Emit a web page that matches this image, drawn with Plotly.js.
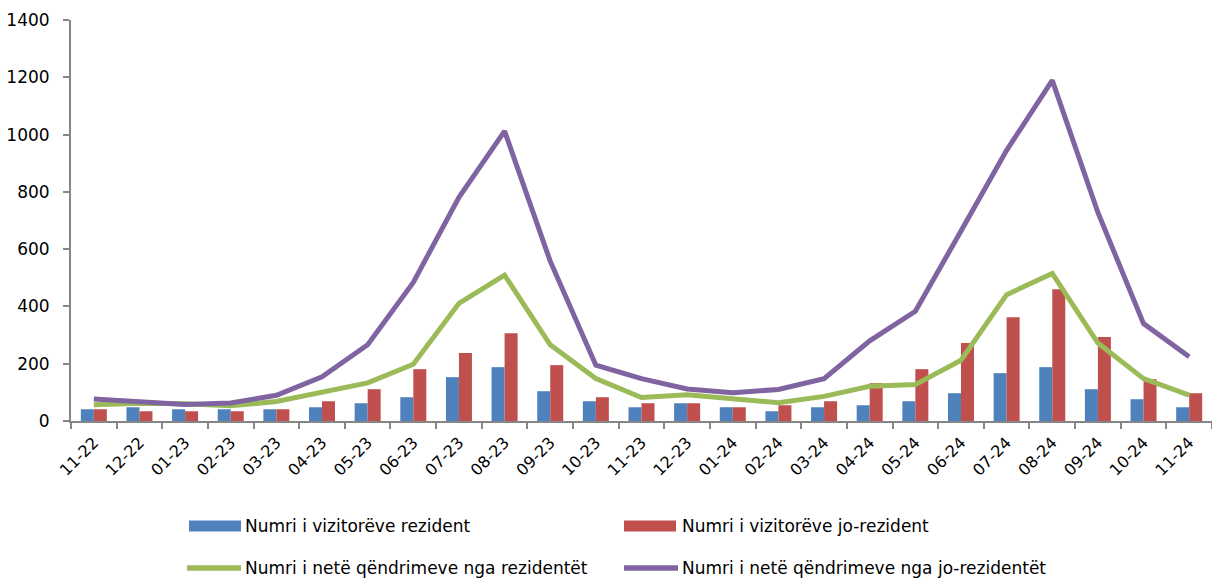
<!DOCTYPE html>
<html>
<head>
<meta charset="utf-8">
<script src="https://cdn.plot.ly/plotly-3.0.1.min.js"></script>
<style>html,body{margin:0;padding:0;background:#fff;}#chart{width:1212px;height:578px;}</style>
</head>
<body>
<div id="chart"></div>
<script>
const months = ["11-22","12-22","01-23","02-23","03-23","04-23","05-23","06-23","07-23","08-23","09-23","10-23","11-23","12-23","01-24","02-24","03-24","04-24","05-24","06-24","07-24","08-24","09-24","10-24","11-24"];
const visitorsResident = [41,48,41,41,41,48,62,83,153,188,104,69,48,62,48,34,48,55,69,97,167,188,111,76,48];
const visitorsNonResident = [41,34,34,34,41,69,111,181,237,306,195,83,62,62,48,55,69,132,181,272,362,460,293,146,97];
const nightsResident = [57,62,60,53,68,100,133,198,411,509,266,148,82,92,78,64,86,121,127,212,441,515,272,148,90];
const nightsNonResident = [77,66,58,63,90,154,266,484,781,1012,558,195,148,112,99,110,148,280,383,663,945,1189,728,340,224];

const names = ["Numri i vizitorëve rezident","Numri i vizitorëve jo-rezident","Numri i netë qëndrimeve nga rezidentët","Numri i netë qëndrimeve nga jo-rezidentët"];
const colors = ["#4F81BD","#C0504D","#9BBB59","#8064A2"];
const font = "DejaVu Sans, Arial, sans-serif";

const data = [
  {type:"bar", x:months, y:visitorsResident, name:names[0], marker:{color:colors[0]}},
  {type:"bar", x:months, y:visitorsNonResident, name:names[1], marker:{color:colors[1]}},
  {type:"scatter", mode:"lines", x:months, y:nightsResident, name:names[2], line:{color:colors[2], width:5}},
  {type:"scatter", mode:"lines", x:months, y:nightsNonResident, name:names[3], line:{color:colors[3], width:5}}
];

// custom legend (pixel geometry -> paper coords)
const L = 71, W = 1141, T = 20, H = 401;
const px = v => (v - L) / W;
const py = v => (T + H - v) / H;
const legendItems = [
  {kind:"bar",  x0:189, x1:241, y:526, tx:244},
  {kind:"bar",  x0:624, x1:676, y:526, tx:681},
  {kind:"line", x0:187, x1:241, y:568, tx:244},
  {kind:"line", x0:624, x1:678, y:568, tx:681}
];
const shapes = [], annotations = [];
legendItems.forEach((it, i) => {
  if (it.kind === "bar") {
    shapes.push({type:"rect", xref:"paper", yref:"paper", x0:px(it.x0), x1:px(it.x1), y0:py(it.y+5.5), y1:py(it.y-5.5),
      fillcolor:colors[i], line:{width:0}});
  } else {
    shapes.push({type:"line", xref:"paper", yref:"paper", x0:px(it.x0), x1:px(it.x1), y0:py(it.y), y1:py(it.y),
      line:{color:colors[i], width:5.5}});
  }
  annotations.push({xref:"paper", yref:"paper", x:px(it.tx), y:py(it.y), xanchor:"left", yanchor:"middle",
    text:names[i], showarrow:false, font:{family:font, size:17, color:"#000"}, borderpad:0});
});

const layout = {
  width:1212, height:578,
  margin:{l:L, r:1212-L-W, t:T, b:578-T-H},
  paper_bgcolor:"#fff", plot_bgcolor:"#fff",
  barmode:"group", bargap:0.43, bargroupgap:0,
  font:{family:font, size:17, color:"#000"},
  showlegend:false,
  xaxis:{type:"category", showline:true, linecolor:"#868686", linewidth:2, ticks:"outside", tickson:"boundaries",
    ticklen:6, tickcolor:"#868686", tickwidth:2, tickangle:-45, ticklabelstandoff:4,
    tickfont:{family:font, size:16, color:"#000"}, showgrid:false, zeroline:false},
  yaxis:{range:[0,1400], dtick:200, showline:true, linecolor:"#868686", linewidth:2, ticks:"outside", ticklen:6,
    tickcolor:"#868686", tickwidth:2, showgrid:false, zeroline:false, ticklabelstandoff:10,
    tickfont:{family:font, size:17, color:"#000"}},
  shapes:shapes,
  annotations:annotations
};

Plotly.newPlot("chart", data, layout, {displayModeBar:false, staticPlot:true});
</script>
</body>
</html>
